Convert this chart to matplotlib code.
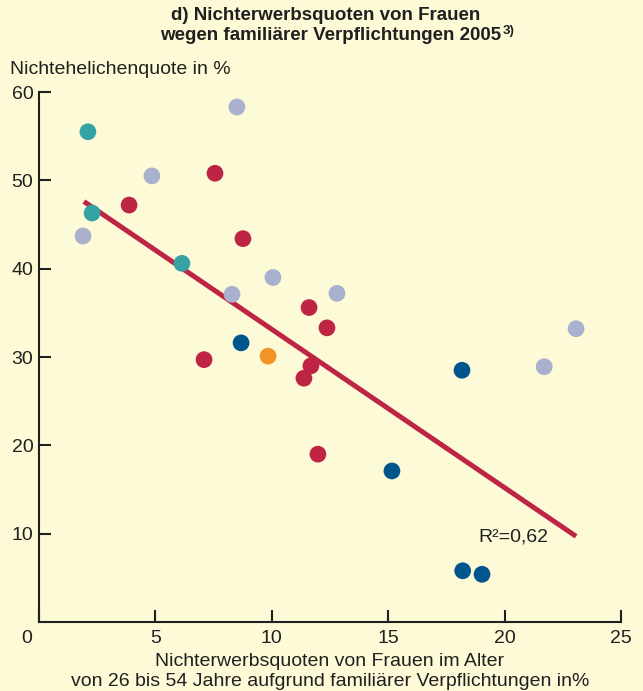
import matplotlib.pyplot as plt
from matplotlib.transforms import ScaledTranslation

plt.rcParams["font.family"] = ["Liberation Sans", "DejaVu Sans"]

# data (x: Nichterwerbsquote, y: Nichtehelichenquote)
teal_x = [2.1, 2.28, 6.14]
teal_y = [55.5, 46.3, 40.6]

lavender_x = [8.5, 4.85, 1.89, 8.29, 10.05, 12.8, 23.07, 21.7]
lavender_y = [58.3, 50.5, 43.7, 37.1, 39.0, 37.2, 33.2, 28.9]

red_x = [3.87, 7.56, 8.76, 11.6, 12.37, 7.09, 11.68, 11.38, 11.98]
red_y = [47.2, 50.8, 43.4, 35.6, 33.3, 29.7, 29.0, 27.6, 19.0]

blue_x = [8.68, 18.17, 15.16, 18.2, 19.03]
blue_y = [31.6, 28.5, 17.1, 5.8, 5.4]

orange_x = [9.84]
orange_y = [30.1]

trend_x = [1.93, 23.07]
trend_y = [47.6, 9.7]

x_ticks = [0, 5, 10, 15, 20, 25]
y_ticks = [10, 20, 30, 40, 50, 60]

bg = "#fdfad8"
ink = "#231f20"
fs = 14

fig = plt.figure(figsize=(6.43, 6.91), dpi=100, facecolor=bg)
ax = fig.add_axes([39 / 643, 1 - 622 / 691, 582 / 643, 530 / 691])
ax.set_facecolor(bg)

# regression line first, dots on top
ax.plot(trend_x, trend_y, color="#be2545", lw=3.6, solid_capstyle="butt", zorder=2)

groups = [
    (teal_x, teal_y, "#35a3a4"),
    (lavender_x, lavender_y, "#a9b1ce"),
    (red_x, red_y, "#be2545"),
    (blue_x, blue_y, "#00558c"),
    (orange_x, orange_y, "#f39325"),
]
for xs, ys, c in groups:
    ax.scatter(xs, ys, s=145, color=c, edgecolors="none", zorder=3)

ax.text(18.86, 9.6, "R²=0,62", fontsize=fs, color=ink, va="center", ha="left")

ax.set_xlim(0, 25)
ax.set_ylim(0, 60)
ax.set_xticks(x_ticks)
ax.set_yticks(y_ticks)
ax.tick_params(direction="in", length=8.5, width=1.5, color=ink, labelcolor=ink, labelsize=fs)
ax.tick_params(axis="x", pad=6)
ax.tick_params(axis="y", pad=4)
for s in ["top", "right"]:
    ax.spines[s].set_visible(False)
for s in ["left", "bottom"]:
    ax.spines[s].set_linewidth(1.5)
    ax.spines[s].set_color(ink)

# the "0" sits a bit left of the origin in the original
zero_lbl = ax.get_xticklabels()[0]
zero_lbl.set_transform(zero_lbl.get_transform() + ScaledTranslation(-0.12, 0, fig.dpi_scale_trans))

fig.text(10 / 643, 1 - 70 / 691, "Nichtehelichenquote in %", fontsize=fs, color=ink,
         ha="left", va="center")

fig.text(326 / 643, 1 - 16 / 691, "d) Nichterwerbsquoten von Frauen", fontsize=13.5,
         fontweight="bold", color=ink, ha="center", va="center")
fig.text(331 / 643, 1 - 36 / 691, "wegen familiärer Verpflichtungen 2005",
         fontsize=13.5, fontweight="bold", color=ink, ha="center", va="center")
fig.text(503 / 643, 1 - 31 / 691, "3)", fontsize=9.5, fontweight="bold", color=ink,
         ha="left", va="center")

fig.text(330 / 643, 1 - 662 / 691, "Nichterwerbsquoten von Frauen im Alter", fontsize=fs,
         color=ink, ha="center", va="center")
fig.text(330 / 643, 1 - 681 / 691, "von 26 bis 54 Jahre aufgrund familiärer Verpflichtungen in%",
         fontsize=fs, color=ink, ha="center", va="center")

fig.savefig("out.png", dpi=100, facecolor=bg)
